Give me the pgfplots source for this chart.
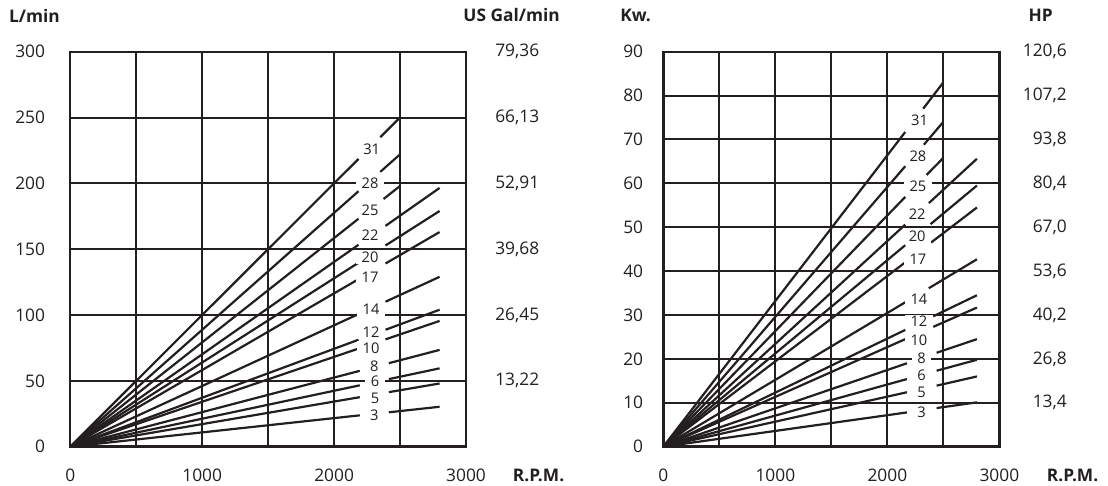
\documentclass[border=0pt]{standalone}
\usepackage{fontspec}
\setmainfont{Open Sans}
\usepackage{pgfplots}
\pgfplotsset{compat=1.18}
\definecolor{ink}{RGB}{35,31,32}

\pgfplotsset{
  chart/.style={
    scale only axis, anchor=south west,
    xmin=0, xmax=3000, xtick={0,500,...,3000}, xticklabels={0,,1000,,2000,,3000},
    grid=major, major grid style={ink, line width=1.5pt},
    major tick length=0pt,
    axis line style={ink, line width=1.75pt},
    tick label style={font=\fontsize{13}{15}\selectfont, text=ink, inner sep=0pt},
    xticklabel style={anchor=center, yshift=-21.75pt},
    unbounded coords=jump, clip=false,
    /pgf/number format/assume math mode=true,
  },
  side/.style={
    scale only axis, anchor=south west, xmin=0, xmax=3000,
    axis x line=none, axis y line*=right, y axis line style={draw=none},
    major tick length=0pt,
    tick label style={font=\fontsize{13}{15}\selectfont, text=ink, inner sep=0pt},
    yticklabel style={anchor=east},
  },
}
\tikzset{
  ln/.style={ink, solid, line width=1.65pt, mark=none},
  lab/.style={fill=white, inner xsep=4pt, inner ysep=1pt, font=\fontsize{11}{13}\selectfont, text=ink},
  head/.style={anchor=west, inner sep=0pt, font=\fontsize{13}{15}\selectfont\bfseries, text=ink},
}

\begin{document}
\begin{tikzpicture}
\useasboundingbox (0,0) rectangle (831pt,364.5pt);

% flow, L/min
\begin{axis}[chart, at={(52.7pt,29.5pt)}, width=296.8pt, height=296.25pt,
  ymin=0, ymax=300, ytick={0,50,...,300}, yticklabels={0,50,100,150,200,250,300},
  yticklabel style={anchor=east, xshift=-18.75pt}]
\addplot[ln] coordinates {(0,0) (2185,218.5) (2200,nan) (2350,235) (2500,250)};
\addplot[ln] coordinates {(0,0) (2185,194.0) (2200,nan) (2350,208.7) (2500,222)};
\addplot[ln] coordinates {(0,0) (2185,173.1) (2200,nan) (2375,188.1) (2500,198)};
\addplot[ln] coordinates {(0,0) (2185,153.3) (2200,nan) (2390,167.7) (2800,196.5)};
\addplot[ln] coordinates {(0,0) (2185,139.7) (2200,nan) (2390,152.8) (2800,179)};
\addplot[ln] coordinates {(0,0) (2185,127.2) (2200,nan) (2390,139.1) (2800,163)};
\addplot[ln] coordinates {(0,0) (2185,100.7) (2200,nan) (2390,110.1) (2800,129)};
\addplot[ln] coordinates {(0,0) (2185,81.2) (2200,nan) (2390,88.8) (2800,104)};
\addplot[ln] coordinates {(0,0) (2185,74.5) (2200,nan) (2390,81.5) (2800,95.5)};
\addplot[ln] coordinates {(0,0) (2195,57.6) (2200,nan) (2415,63.4) (2800,73.5)};
\addplot[ln] coordinates {(0,0) (2195,46.6) (2200,nan) (2415,51.3) (2800,59.5)};
\addplot[ln] coordinates {(0,0) (2195,37.6) (2200,nan) (2415,41.4) (2800,48)};
\addplot[ln] coordinates {(0,0) (2195,23.8) (2200,nan) (2415,26.1) (2800,30.3)};
\node[lab] at (axis cs:2285,226) {31};
\node[lab] at (axis cs:2273,200) {28};
\node[lab] at (axis cs:2273,179.8) {25};
\node[lab] at (axis cs:2273,160.6) {22};
\node[lab] at (axis cs:2273,143.7) {20};
\node[lab] at (axis cs:2273,129) {17};
\node[lab] at (axis cs:2280,104) {14};
\node[lab] at (axis cs:2280,86.6) {12};
\node[lab] at (axis cs:2280,74.8) {10};
\node[lab] at (axis cs:2305,61) {8};
\node[lab] at (axis cs:2310,49.5) {6};
\node[lab] at (axis cs:2310,37) {5};
\node[lab] at (axis cs:2305,23.7) {3};
\node[head] at (axis description cs:-0.155,1.091) {L/min};
\node[head] at (axis description cs:0.993,1.093) {US Gal/min};
\node[head] at (axis description cs:1.118,-0.074) {R.P.M.};
\end{axis}
\begin{axis}[side, at={(52.7pt,29.5pt)}, width=296.8pt, height=296.25pt,
  ymin=0, ymax=300, ytick={50,100,...,300},
  yticklabels={{13,22},{26,45},{39,68},{52,91},{66,13},{79,36}},
  yticklabel style={xshift=55.1pt}]
\end{axis}

% power, Kw
\begin{axis}[chart, at={(497.5pt,29.5pt)}, width=252pt, height=296.25pt,
  ymin=0, ymax=90, ytick={0,10,...,90}, yticklabels={0,10,20,30,40,50,60,70,80,90},
  yticklabel style={anchor=east, xshift=-15pt}]
\addplot[ln] coordinates {(0,0) (2160,71.7) (2200,nan) (2320,77.0) (2500,83)};
\addplot[ln] coordinates {(0,0) (2160,63.9) (2200,nan) (2326,68.8) (2500,74)};
\addplot[ln] coordinates {(0,0) (2160,56.9) (2200,nan) (2350,61.9) (2500,65.8)};
\addplot[ln] coordinates {(0,0) (2160,50.6) (2200,nan) (2371,55.5) (2800,65.6)};
\addplot[ln] coordinates {(0,0) (2160,45.9) (2200,nan) (2386,50.7) (2800,59.5)};
\addplot[ln] coordinates {(0,0) (2160,42.0) (2200,nan) (2390,46.5) (2800,54.5)};
\addplot[ln] coordinates {(0,0) (2160,32.9) (2200,nan) (2370,36.1) (2800,42.7)};
\addplot[ln] coordinates {(0,0) (2160,26.6) (2200,nan) (2410,29.7) (2800,34.5)};
\addplot[ln] coordinates {(0,0) (2160,24.5) (2200,nan) (2410,27.3) (2800,31.7)};
\addplot[ln] coordinates {(0,0) (2175,19.0) (2200,nan) (2440,21.4) (2800,24.5)};
\addplot[ln] coordinates {(0,0) (2175,15.4) (2200,nan) (2440,17.3) (2800,19.8)};
\addplot[ln] coordinates {(0,0) (2175,12.4) (2200,nan) (2440,13.9) (2800,16.0)};
\addplot[ln] coordinates {(0,0) (2175,7.8) (2200,nan) (2440,8.8) (2800,10.1)};
\node[lab] at (axis cs:2288,74.4) {31};
\node[lab] at (axis cs:2273,66.2) {28};
\node[lab] at (axis cs:2273,59.4) {25};
\node[lab] at (axis cs:2267,53) {22};
\node[lab] at (axis cs:2267,47.9) {20};
\node[lab] at (axis cs:2273,42.6) {17};
\node[lab] at (axis cs:2282,33.6) {14};
\node[lab] at (axis cs:2282,28.5) {12};
\node[lab] at (axis cs:2282,24.2) {10};
\node[lab] at (axis cs:2306,20.2) {8};
\node[lab] at (axis cs:2306,16.2) {6};
\node[lab] at (axis cs:2306,12.4) {5};
\node[lab] at (axis cs:2306,7.9) {3};
\node[head] at (axis description cs:-0.129,1.093) {Kw.};
\node[head] at (axis description cs:1.086,1.093) {HP};
\node[head] at (axis description cs:1.141,-0.074) {R.P.M.};
\end{axis}
\begin{axis}[side, at={(497.5pt,29.5pt)}, width=252pt, height=296.25pt,
  ymin=0, ymax=90, ytick={10,20,...,90},
  yticklabels={{13,4},{26,8},{40,2},{53,6},{67,0},{80,4},{93,8},{107,2},{120,6}},
  yticklabel style={xshift=50.8pt}]
\end{axis}
\end{tikzpicture}
\end{document}
